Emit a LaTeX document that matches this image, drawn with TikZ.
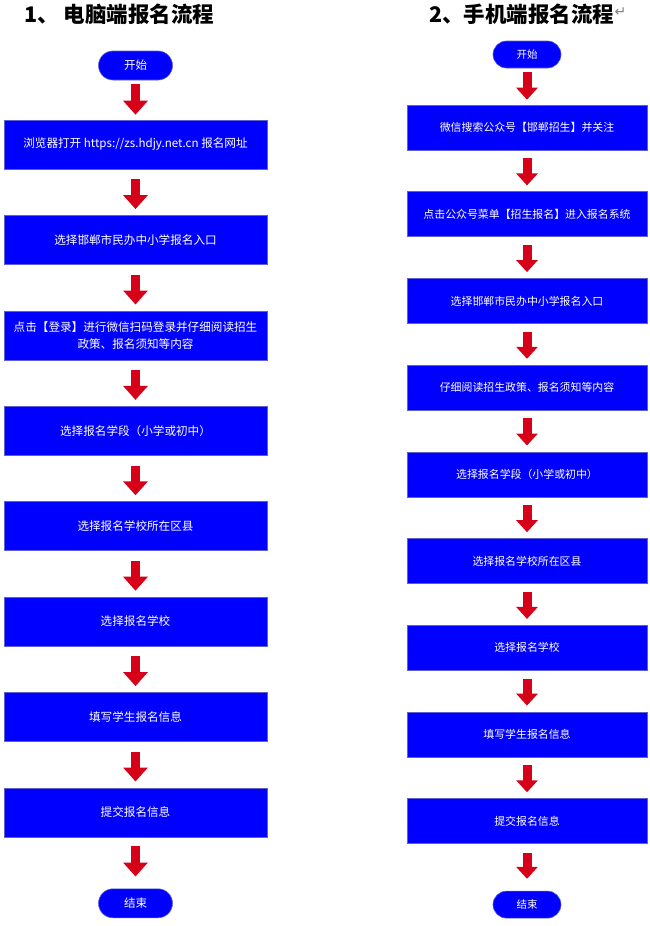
\documentclass[tikz,border=0pt]{standalone}
\usepackage{fontspec}
\newfontfamily\cjk{Noto Sans CJK SC}
\newfontfamily\symfont{DejaVu Sans}
\usepackage{tikz}
\usetikzlibrary{arrows.meta}
\definecolor{boxblue}{RGB}{0,0,255}
\definecolor{boxline}{RGB}{95,95,205}
\definecolor{arrowred}{RGB}{215,0,25}

\tikzset{
  lbox/.style={draw=boxline, line width=0.6pt, fill=boxblue, text=white, inner sep=0pt,
    minimum width=263pt, minimum height=49pt, align=center,
    font=\cjk\fontsize{11.6}{17}\selectfont},
  rbox/.style={lbox, minimum width=240pt, minimum height=45pt,
    font=\cjk\fontsize{10.9}{15}\selectfont},
  lpill/.style={lbox, rounded corners=14.5pt, minimum width=74pt, minimum height=29pt,
    font=\cjk\fontsize{11.5}{14}\selectfont},
  rpill/.style={lbox, rounded corners=13.5pt, minimum width=68pt, minimum height=27pt,
    font=\cjk\fontsize{10.5}{13}\selectfont},
  title/.style={anchor=west, inner sep=0pt, font=\cjk\bfseries\fontsize{21.5}{24}\selectfont},
  fromstart/.style={shorten <=4pt, shorten >=5pt},
  toend/.style={shorten <=9pt, shorten >=12pt},
}

\begin{document}
\begin{tikzpicture}[x=1pt, y=-1pt, ->, >={Triangle[width=24pt,length=14pt]},
  every edge/.style={draw=arrowred, line width=9pt, shorten <=10pt, shorten >=6pt}]
\useasboundingbox (0,0) rectangle (650,926);
%
\node (T1) [title] at (24,14) {1、 电脑端报名流程};
\node (T2) [title] at (429,14) {2、手机端报名流程};
\node (T3) [inner sep=0pt, text=gray, font=\symfont\fontsize{14}{14}\selectfont] at (620.5,12.5) {↵};
%
% left column
\begin{scope}[node distance=95.4pt]
\node (L0) [lpill] at (135.5,65.5) {开始};
\node (L1) [lbox, node distance=79pt, below of=L0] {浏览器打开 https://zs.hdjy.net.cn 报名网址};
\node (L2) [lbox, below of=L1] {选择邯郸市民办中小学报名入口};
\node (L3) [lbox, below of=L2] {点击【登录】进行微信扫码登录并仔细阅读招生\\政策、报名须知等内容};
\node (L4) [lbox, below of=L3] {选择报名学段（小学或初中）};
\node (L5) [lbox, below of=L4] {选择报名学校所在区县};
\node (L6) [lbox, below of=L5] {选择报名学校};
\node (L7) [lbox, below of=L6] {填写学生报名信息};
\node (L8) [lbox, below of=L7] {提交报名信息};
\node (L9) [lpill, node distance=91pt, below of=L8] {结束};
%
\path (L0) edge [fromstart] (L1);
\path (L1) edge (L2);
\path (L2) edge (L3);
\path (L3) edge (L4);
\path (L4) edge (L5);
\path (L5) edge (L6);
\path (L6) edge (L7);
\path (L7) edge (L8);
\path (L8) edge [toend] (L9);
\end{scope}
%
% right column
\begin{scope}[node distance=86.7pt, >={Triangle[width=21pt,length=12pt]},
  every edge/.append style={shorten <=8pt}]
\node (R0) [rpill] at (527,54.5) {开始};
\node (R1) [rbox, node distance=73pt, below of=R0] {微信搜索公众号【邯郸招生】并关注};
\node (R2) [rbox, below of=R1] {点击公众号菜单【招生报名】进入报名系统};
\node (R3) [rbox, below of=R2] {选择邯郸市民办中小学报名入口};
\node (R4) [rbox, below of=R3] {仔细阅读招生政策、报名须知等内容};
\node (R5) [rbox, below of=R4] {选择报名学段（小学或初中）};
\node (R6) [rbox, below of=R5] {选择报名学校所在区县};
\node (R7) [rbox, below of=R6] {选择报名学校};
\node (R8) [rbox, below of=R7] {填写学生报名信息};
\node (R9) [rbox, below of=R8] {提交报名信息};
\node (R10) [rpill, node distance=83.5pt, below of=R9] {结束};
%
\path (R0) edge [fromstart] (R1);
\path (R1) edge (R2);
\path (R2) edge (R3);
\path (R3) edge (R4);
\path (R4) edge (R5);
\path (R5) edge (R6);
\path (R6) edge (R7);
\path (R7) edge (R8);
\path (R8) edge (R9);
\path (R9) edge [toend] (R10);
\end{scope}
\end{tikzpicture}
\end{document}
